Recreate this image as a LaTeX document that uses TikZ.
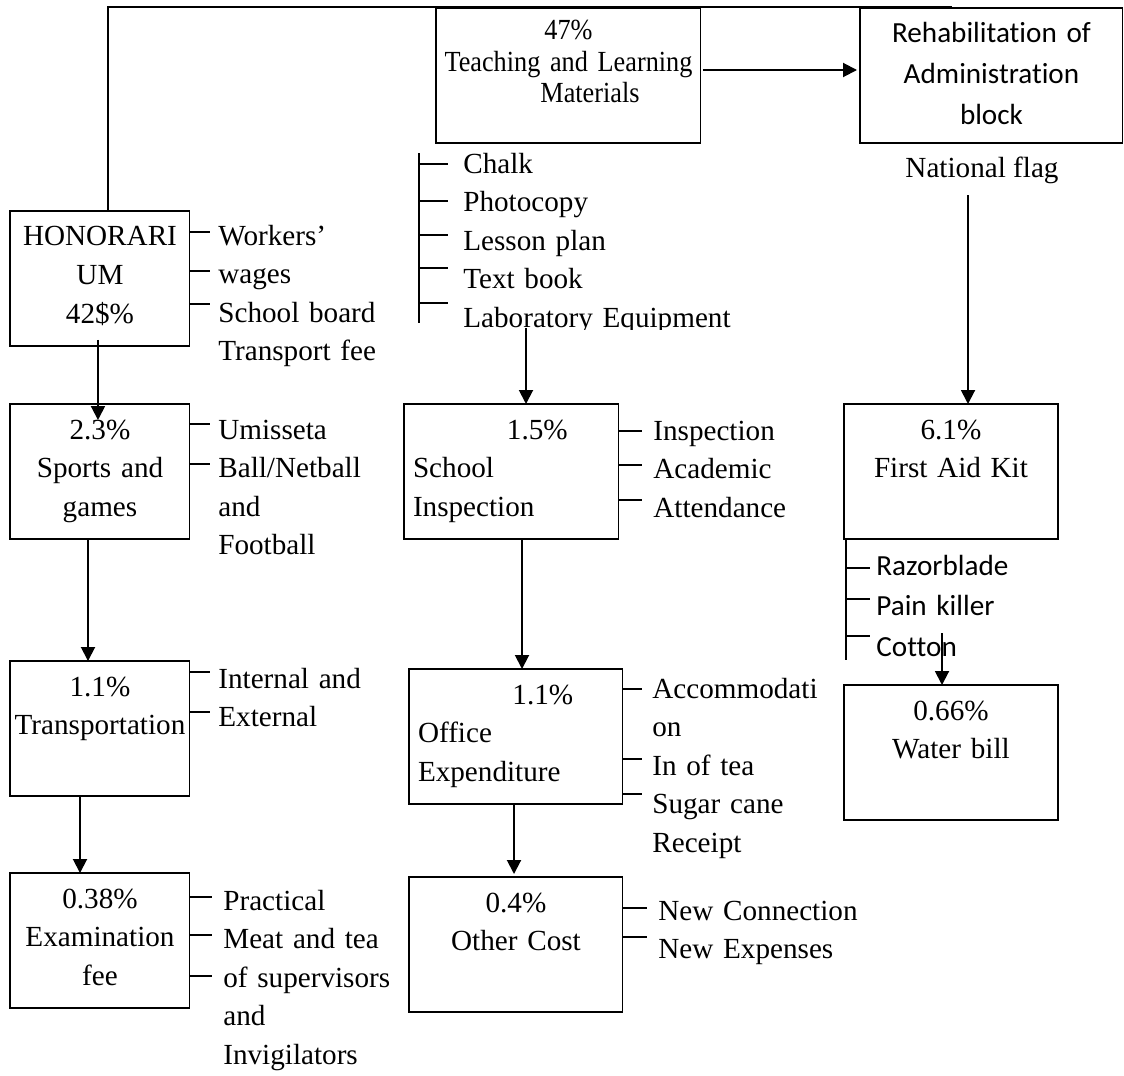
\documentclass[tikz,border=0pt]{standalone}
\usepackage{fontspec}
\setmainfont{Liberation Serif}
\newfontfamily\narrowserif{Liberation Serif}[FakeStretch=0.9]
\newfontfamily\calibrifont{Carlito}[Ligatures={NoCommon}]
\usetikzlibrary{positioning,calc,arrows.meta}

\begin{document}
\begin{tikzpicture}[x=0.02cm,y=-0.02cm,
  font=\fontsize{16.6pt}{22pt}\selectfont,
  cell/.style={draw,line width=0.6pt,inner xsep=0.05cm,inner ysep=0pt,outer sep=0pt,anchor=north west,align=center,text height=0.7cm,text depth=2cm},
  leftcell/.style={cell,inner xsep=0.18cm,align=left},
  items/.style={anchor=base west,inner sep=0pt,align=left,text width=6cm},
  tick/.style={line width=0.9pt},
  link/.style={line width=1.1pt},
  arr/.style={line width=1.1pt,-{Triangle[width=0.28cm,length=0.28cm]}}]
\useasboundingbox (0,0) rectangle (1124,1075);

\node[cell,text width=3.5cm] (hon) at (10,211) {HONORARI\\UM\\42\$\%};
\node[cell,text width=3.5cm] (sport) at (10,404) {2.3\%\\Sports and\\games};
\node[cell,text width=3.5cm] (trans) at (10,661) {1.1\%\\Transportation};
\node[cell,text width=3.5cm] (exam) at (10,873) {0.38\%\\Examination\\fee};

\node[cell,text width=5.2cm,text height=0.64cm,text depth=2.06cm,font=\narrowserif\fontsize{16.6pt}{17.7pt}\selectfont] (teach) at (436,8) {47\%\\Teaching and Learning\\\hspace*{0.86cm}Materials};
\node[cell,text width=5.16cm,font=\calibrifont\fontsize{16.6pt}{23.3pt}\selectfont] (rehab) at (860,8) {Rehabilitation of\\Administration\\block};

\node[leftcell,text width=3.94cm] (insp) at (404,404) {\hspace*{1.88cm}1.5\%\\School\\Inspection};
\node[leftcell,text width=3.92cm] (office) at (409,669) {\hspace*{1.89cm}1.1\%\\Office\\Expenditure};
\node[cell,text width=4.18cm] (other) at (409,877) {0.4\%\\Other Cost};

\node[cell,text width=4.18cm] (aid) at (844,404) {6.1\%\\First Aid Kit};
\node[cell,text width=4.18cm] (water) at (844,685) {0.66\%\\Water bill};

\node[items] (honlist) at (218,245) {Workers'\\wages\\School board\\Transport fee};
\node[items] (sportlist) at (218,439) {Umisseta\\Ball/Netball\\and\\Football};
\node[items] (translist) at (218,688) {Internal and\\External};
\node[items] (examlist) at (223,910) {Practical\\Meat and tea\\of supervisors\\and\\Invigilators};
\begin{scope}
\clip (440,140) rectangle (800,329);
\node[items] (teachlist) at (463,173) {Chalk\\Photocopy\\Lesson plan\\Text book\\Laboratory Equipment};
\end{scope}
\node[anchor=base,inner sep=0pt] (flag) at (982,177) {National flag};
\node[items] (insplist) at (653,440) {Inspection\\Academic\\Attendance};
\node[items] (officelist) at (652,698) {Accommodati\\on\\In of tea\\Sugar cane\\Receipt};
\node[items] (otherlist) at (658,920) {New Connection\\New Expenses};
\node[items,font=\calibrifont\fontsize{16.6pt}{23.3pt}\selectfont] (aidlist) at (876,575) {Razorblade\\Pain killer\\Cotton};

\coordinate (topend) at (952,7);
\coordinate (lab) at (526,328);
\coordinate (tltop) at (419,153);
\coordinate (tlbot) at (419,323);
\coordinate (flagend) at (968,195);
\coordinate (cot) at (942,633);
\coordinate (aidbar) at ($(aid.south west)+(2,0)$);

\draw[link] (hon.north -| 108,0) |- (topend);

\draw[arr] ($(hon.south)+(-2,-6)$) -- ($(sport.north)+(-2,16)$);
\draw[arr] (sport.south -| 88,0) -- (trans.north -| 88,0);
\draw[arr] (trans.south -| 80,0) -- (exam.north -| 80,0);
\draw[arr,shorten <=0.04cm,shorten >=0.06cm] (teach.east |- 0,70) -- (rehab.west |- 0,70);
\draw[arr] (lab) -- (insp.north -| lab);
\draw[arr] (insp.south -| 522,0) -- (office.north -| 522,0);
\draw[arr,shorten >=0.06cm] (office.south -| 514,0) -- (other.north -| 514,0);
\draw[arr] (flagend) -- (aid.north -| flagend);
\draw[arr] (cot) -- (water.north -| cot);

\draw[tick] (hon.east |- 0,232) -- ++(20,0) (hon.east |- 0,271) -- ++(20,0) (hon.east |- 0,304) -- ++(20,0);
\draw[tick] (sport.east |- 0,424) -- ++(20,0) (sport.east |- 0,464) -- ++(20,0);
\draw[tick] (trans.east |- 0,672) -- ++(20,0) (trans.east |- 0,712) -- ++(20,0);
\draw[tick] (exam.east |- 0,897) -- ++(22,0) (exam.east |- 0,935) -- ++(22,0) (exam.east |- 0,976) -- ++(22,0);
\draw[tick] (tltop) -- (tlbot);
\draw[tick] (tltop |- 0,164) -- ++(29,0) (tltop |- 0,201) -- ++(29,0) (tltop |- 0,235) -- ++(29,0) (tltop |- 0,268) -- ++(29,0) (tltop |- 0,303) -- ++(29,0);
\draw[tick] (insp.east |- 0,431) -- ++(23,0) (insp.east |- 0,465) -- ++(23,0) (insp.east |- 0,500) -- ++(23,0);
\draw[tick] (office.east |- 0,689) -- ++(19,0) (office.east |- 0,759) -- ++(19,0) (office.east |- 0,794) -- ++(19,0);
\draw[tick] (other.east |- 0,908) -- ++(24,0) (other.east |- 0,937) -- ++(24,0);
\draw[tick] (aidbar) -- ++(0,121);
\draw[tick] (aidbar |- 0,568) -- ++(24,0) (aidbar |- 0,599) -- ++(24,0) (aidbar |- 0,636) -- ++(24,0);
\end{tikzpicture}
\end{document}
